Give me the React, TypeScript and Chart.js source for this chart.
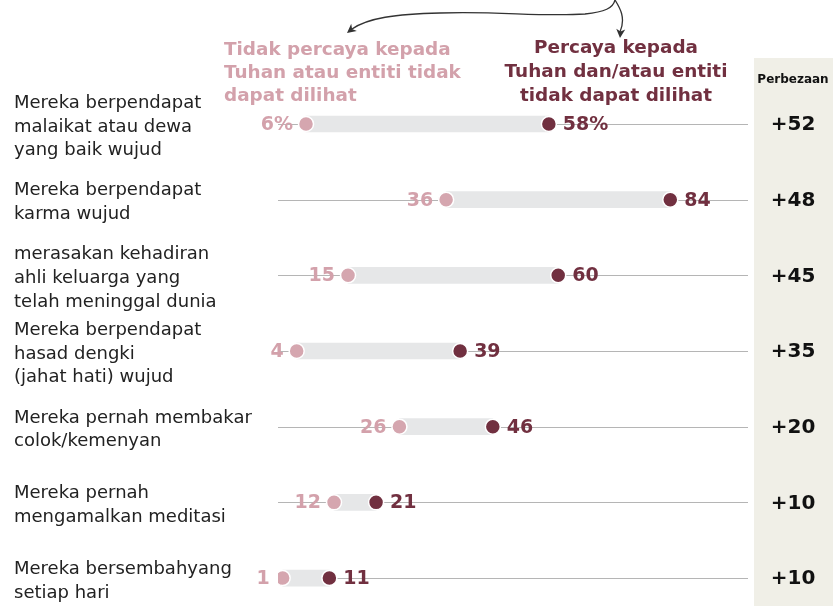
import React, { useEffect, useRef } from "react";
import { Chart, registerables } from "chart.js";

Chart.register(...registerables);

const categories: string[][] = [
  ["Mereka berpendapat", "malaikat atau dewa", "yang baik wujud"],
  ["Mereka berpendapat", "karma wujud"],
  ["merasakan kehadiran", "ahli keluarga yang", "telah meninggal dunia"],
  ["Mereka berpendapat", "hasad dengki", "(jahat hati) wujud"],
  ["Mereka pernah membakar", "colok/kemenyan"],
  ["Mereka pernah", "mengamalkan meditasi"],
  ["Mereka bersembahyang", "setiap hari"],
];
const notBelieve = [6, 36, 15, 4, 26, 12, 1];
const believe = [58, 84, 60, 39, 46, 21, 11];
const differences = ["+52", "+48", "+45", "+35", "+20", "+10", "+10"];
const headingNotBelieve = ["Tidak percaya kepada", "Tuhan atau entiti tidak", "dapat dilihat"];
const headingBelieve = ["Percaya kepada", "Tuhan dan/atau entiti", "tidak dapat dilihat"];
const diffHeader = "Perbezaan";

const PINK = "#D3A1AB";
const PINK_DOT = "#D5A6AF";
const DARK = "#713040";
const GREY_BAR = "#E6E7E8";
const GRID = "#B5B5B5";
const BEIGE = "#F0EFE7";

const overlay = {
  id: "overlay",
  beforeDatasetsDraw(chart: any) {
    const { ctx, scales } = chart;
    const y = scales.y;
    const x = scales.x;
    ctx.save();
    ctx.fillStyle = BEIGE;
    ctx.fillRect(754, 58, 833 - 754, 606 - 58);
    ctx.strokeStyle = GRID;
    ctx.lineWidth = 1;
    categories.forEach((_, i) => {
      const py = Math.round(y.getPixelForValue(i)) + 0.5;
      ctx.beginPath();
      ctx.moveTo(x.getPixelForValue(0), py);
      ctx.lineTo(x.getPixelForValue(100) + 3, py);
      ctx.stroke();
    });
    ctx.restore();
  },
  afterDatasetsDraw(chart: any) {
    const { ctx, scales } = chart;
    const y = scales.y;
    const x = scales.x;
    ctx.save();
    // value labels
    ctx.font = "bold 19px 'DejaVu Sans'";
    ctx.textBaseline = "middle";
    categories.forEach((_, i) => {
      const py = y.getPixelForValue(i) + 1;
      const suffix = i === 0 ? "%" : "";
      ctx.fillStyle = PINK;
      ctx.textAlign = "right";
      ctx.fillText(notBelieve[i] + suffix, x.getPixelForValue(notBelieve[i]) - 13, py);
      ctx.fillStyle = DARK;
      ctx.textAlign = "left";
      ctx.fillText(believe[i] + suffix, x.getPixelForValue(believe[i]) + 14, py);
    });
    // differences
    ctx.fillStyle = "#111";
    ctx.textAlign = "center";
    ctx.font = "bold 20px 'DejaVu Sans'";
    categories.forEach((_, i) => {
      ctx.fillText(differences[i], 793, y.getPixelForValue(i) + 1);
    });
    ctx.font = "bold 12px 'DejaVu Sans'";
    ctx.fillText(diffHeader, 793, 80);
    // category labels
    ctx.fillStyle = "#222";
    ctx.textAlign = "left";
    ctx.font = "18px 'DejaVu Sans'";
    const lh = 23.7;
    categories.forEach((lines, i) => {
      const cy = y.getPixelForValue(i) + 3;
      const start = cy - ((lines.length - 1) * lh) / 2;
      lines.forEach((t, j) => ctx.fillText(t, 14, start + j * lh));
    });
    // headings
    ctx.font = "bold 18.4px 'DejaVu Sans'";
    ctx.fillStyle = PINK;
    ctx.textAlign = "left";
    headingNotBelieve.forEach((t, j) => ctx.fillText(t, 224, 50 + j * 23));
    ctx.fillStyle = DARK;
    ctx.textAlign = "center";
    headingBelieve.forEach((t, j) => ctx.fillText(t, 616, 48 + j * 24));
    // arrows
    ctx.strokeStyle = "#333";
    ctx.fillStyle = "#333";
    ctx.lineWidth = 1.3;
    ctx.beginPath();
    ctx.moveTo(615, 0);
    ctx.bezierCurveTo(613, 8, 605, 12, 585, 14);
    ctx.bezierCurveTo(540, 17, 500, 11, 440, 13);
    ctx.bezierCurveTo(395, 14, 368, 18, 352, 29);
    ctx.stroke();
    ctx.beginPath();
    ctx.moveTo(615, 0);
    ctx.bezierCurveTo(620, 8, 626, 18, 620, 32);
    ctx.stroke();
    const head = (tx: number, ty: number, ang: number) => {
      ctx.save();
      ctx.translate(tx, ty);
      ctx.rotate(ang);
      ctx.beginPath();
      ctx.moveTo(0, 0);
      ctx.lineTo(-9, -4.5);
      ctx.lineTo(-6.5, 0);
      ctx.lineTo(-9, 4.5);
      ctx.closePath();
      ctx.fill();
      ctx.restore();
    };
    head(347, 33, Math.atan2(4, -5));
    head(620, 38, Math.atan2(6, -0.5));
    ctx.restore();
  },
};

export default function App() {
  const ref = useRef<HTMLCanvasElement>(null);
  useEffect(() => {
    if (!ref.current) return;
    const chart = new Chart(ref.current, {
      type: "scatter",
      data: {
        datasets: [
          {
            type: "scatter",
            label: "Tidak percaya",
            data: notBelieve.map((v, i) => ({ x: v, y: i })),
            backgroundColor: PINK_DOT,
            borderColor: "#ffffff",
            borderWidth: 1.5,
            pointRadius: 7.5,
            order: 1,
          } as any,
          {
            type: "scatter",
            label: "Percaya",
            data: believe.map((v, i) => ({ x: v, y: i })),
            backgroundColor: DARK,
            borderColor: "#ffffff",
            borderWidth: 1.5,
            pointRadius: 7.5,
            order: 2,
          } as any,
          {
            type: "bar",
            label: "range",
            indexAxis: "y",
            data: notBelieve.map((v, i) => ({ x: [v, believe[i]], y: i })),
            backgroundColor: GREY_BAR,
            barThickness: 16,
            order: 3,
          } as any,
        ],
      },
      options: {
        responsive: false,
        animation: false,
        events: [],
        layout: { autoPadding: false, padding: { left: 278, right: 88, top: 90, bottom: 6 } },
        plugins: { legend: { display: false }, tooltip: { enabled: false } },
        scales: {
          x: { type: "linear", min: 0, max: 100, display: false, offset: false, grace: 0, beginAtZero: false },
          y: { type: "linear", min: -0.449, max: 6.29, reverse: true, display: false, offset: false, grace: 0, beginAtZero: false },
        },
      } as any,
      plugins: [overlay],
    });
    return () => chart.destroy();
  }, []);
  return (
    <div style={{ position: "absolute", left: 0, top: 0, width: 833, height: 606, background: "#fff" }}>
      <canvas ref={ref} width={833} height={606} />
    </div>
  );
}
